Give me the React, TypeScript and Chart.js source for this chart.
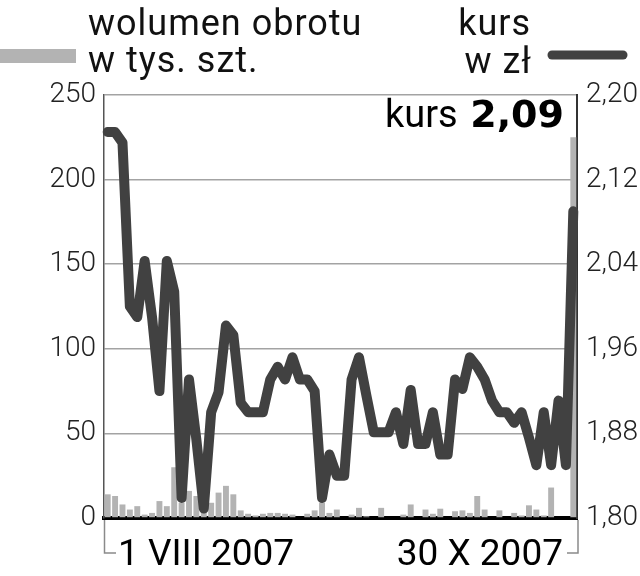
import React, { useEffect, useRef } from 'react';
import { Chart, registerables } from 'chart.js';

Chart.register(...registerables);

// Trading sessions 1 VIII 2007 – 30 X 2007 (15 VIII holiday)
const tradingDays = [
  '1.08', '2.08', '3.08', '6.08', '7.08', '8.08', '9.08', '10.08', '13.08', '14.08',
  '16.08', '17.08', '20.08', '21.08', '22.08', '23.08', '24.08', '27.08', '28.08', '29.08',
  '30.08', '31.08', '3.09', '4.09', '5.09', '6.09', '7.09', '10.09', '11.09', '12.09',
  '13.09', '14.09', '17.09', '18.09', '19.09', '20.09', '21.09', '24.09', '25.09', '26.09',
  '27.09', '28.09', '1.10', '2.10', '3.10', '4.10', '5.10', '8.10', '9.10', '10.10',
  '11.10', '12.10', '15.10', '16.10', '17.10', '18.10', '19.10', '22.10', '23.10', '24.10',
  '25.10', '26.10', '29.10', '30.10',
];

// wolumen obrotu, tys. szt.
const volume = [
  14, 13, 8, 5, 7, 2, 3, 10, 7, 30,
  9, 16, 13, 5, 9, 15, 19, 14, 4.5, 2.5,
  1.5, 2.5, 3, 3, 2.5, 2, 0, 2.5, 4.5, 9,
  3, 5, 0, 2, 6, 1, 0, 6, 0, 0,
  2, 8, 0, 5, 2.5, 5.5, 0, 4, 4.5, 3,
  13, 5, 0, 4.5, 0, 3, 1.5, 7.5, 5, 1.5,
  18, 0, 0, 225,
];

// kurs, zł
const price = [
  2.165, 2.165, 2.155, 2.0, 1.99, 2.043, 1.99, 1.92, 2.043, 2.014,
  1.819, 1.931, 1.874, 1.809, 1.9, 1.919, 1.982, 1.973, 1.909, 1.9,
  1.9, 1.9, 1.931, 1.943, 1.931, 1.952, 1.931, 1.931, 1.92, 1.819,
  1.86, 1.84, 1.84, 1.931, 1.952, 1.916, 1.881, 1.881, 1.881, 1.9,
  1.87, 1.921, 1.87, 1.87, 1.9, 1.86, 1.86, 1.931, 1.922, 1.952,
  1.943, 1.931, 1.911, 1.9, 1.9, 1.89, 1.9, 1.876, 1.85, 1.9,
  1.85, 1.911, 1.85, 2.09,
];

const volumeTicks = [0, 50, 100, 150, 200, 250];
const priceTicks = [1.8, 1.88, 1.96, 2.04, 2.12, 2.2];

const titleLeft = ['wolumen obrotu', 'w tys. szt.'];
const titleRight = ['kurs', 'w zł'];
const lastLabel = 'kurs';
const lastValue = '2,09';
const dateStart = '1 VIII 2007';
const dateEnd = '30 X 2007';

const BAR_COLOR = '#b3b3b3';
const LINE_COLOR = '#414141';

const decorPlugin = {
  id: 'decor',
  afterDraw(chart: any) {
    const ctx = chart.ctx as CanvasRenderingContext2D;
    const a = chart.chartArea;
    ctx.save();

    // legend titles
    ctx.fillStyle = '#111';
    ctx.font = '400 36px Roboto';
    (ctx as any).letterSpacing = '1px';
    ctx.textBaseline = 'alphabetic';
    ctx.textAlign = 'left';
    ctx.fillText(titleLeft[0], 88, 35);
    ctx.fillText(titleLeft[1], 88, 72);
    ctx.textAlign = 'right';
    ctx.fillText(titleRight[0], 531, 35);
    ctx.fillText(titleRight[1], 532, 73);

    // legend swatches
    ctx.fillStyle = BAR_COLOR;
    ctx.fillRect(0, 49, 76, 14);
    ctx.strokeStyle = LINE_COLOR;
    ctx.lineWidth = 9;
    ctx.lineCap = 'round';
    ctx.beginPath();
    ctx.moveTo(552, 55);
    ctx.lineTo(623, 55);
    ctx.stroke();

    // last value label
    (ctx as any).letterSpacing = '0px';
    ctx.fillStyle = '#000';
    ctx.textAlign = 'left';
    ctx.font = '400 38px Roboto';
    ctx.fillText(lastLabel, 385, 127);
    ctx.font = '700 38px "DejaVu Sans"';
    ctx.textAlign = 'right';
    ctx.fillText(lastValue, 564, 127);

    // bottom brackets
    ctx.strokeStyle = '#8a8a8a';
    ctx.lineWidth = 1.5;
    ctx.lineCap = 'butt';
    ctx.beginPath();
    ctx.moveTo(a.left + 0.5, a.bottom + 2);
    ctx.lineTo(a.left + 0.5, 553);
    ctx.lineTo(a.left + 12, 553);
    ctx.moveTo(a.right + 1, a.bottom + 2);
    ctx.lineTo(a.right + 1, 553);
    ctx.lineTo(a.right - 10, 553);
    ctx.stroke();

    // date labels
    ctx.fillStyle = '#000';
    ctx.font = '400 37px Roboto';
    ctx.textAlign = 'left';
    ctx.fillText(dateStart, 118, 565);
    ctx.textAlign = 'right';
    ctx.fillText(dateEnd, 563, 565);

    ctx.restore();
  },
};

export default function App() {
  const canvasRef = useRef<HTMLCanvasElement | null>(null);

  useEffect(() => {
    document.body.style.margin = '0';
    const canvas = canvasRef.current;
    if (!canvas) return;
    const tickFont = { family: 'Roboto', size: 28, weight: 300 as any };
    const chart = new Chart(canvas, {
      type: 'bar',
      data: {
        labels: tradingDays,
        datasets: [
          {
            type: 'line',
            data: price,
            yAxisID: 'y1',
            borderColor: LINE_COLOR,
            borderWidth: 10,
            pointRadius: 0,
            tension: 0,
            borderJoinStyle: 'round',
            borderCapStyle: 'round',
            order: 1,
          } as any,
          {
            type: 'bar',
            data: volume,
            yAxisID: 'y',
            backgroundColor: BAR_COLOR,
            barPercentage: 0.8,
            categoryPercentage: 1.0,
            order: 2,
          },
        ],
      },
      options: {
        responsive: false,
        maintainAspectRatio: false,
        animation: false,
        devicePixelRatio: 1,
        layout: { padding: { top: 95, left: 0, right: 0, bottom: 0 } },
        plugins: { legend: { display: false }, tooltip: { enabled: false } },
        scales: {
          x: {
            offset: true,
            grid: { display: false, drawTicks: false },
            border: { display: true, color: '#000', width: 4 },
            ticks: { display: false },
            afterFit: (s: any) => { s.height = 58; },
          },
          y: {
            position: 'left',
            min: 0,
            max: 250,
            afterBuildTicks: (s: any) => { s.ticks = volumeTicks.map((v) => ({ value: v })); },
            afterFit: (s: any) => { s.width = 104; },
            grid: { color: '#a3a3a3', lineWidth: 1.5, drawTicks: false },
            border: { display: true, color: '#555', width: 1.5 },
            ticks: { padding: 8, font: tickFont, color: '#222' },
          },
          y1: {
            position: 'right',
            min: 1.8,
            max: 2.2,
            afterBuildTicks: (s: any) => { s.ticks = priceTicks.map((v) => ({ value: v })); },
            afterFit: (s: any) => { s.width = 63; },
            grid: { display: false, drawTicks: false },
            border: { display: true, color: '#333', width: 2 },
            ticks: {
              padding: 9,
              font: tickFont,
              color: '#222',
              callback: (v: any) => Number(v).toFixed(2).replace('.', ','),
            },
          },
        },
      },
      plugins: [decorPlugin],
    });
    return () => chart.destroy();
  }, []);

  return (
    <div style={{ width: 640, height: 576 }}>
      <canvas ref={canvasRef} width={640} height={576} style={{ display: 'block' }} />
    </div>
  );
}
